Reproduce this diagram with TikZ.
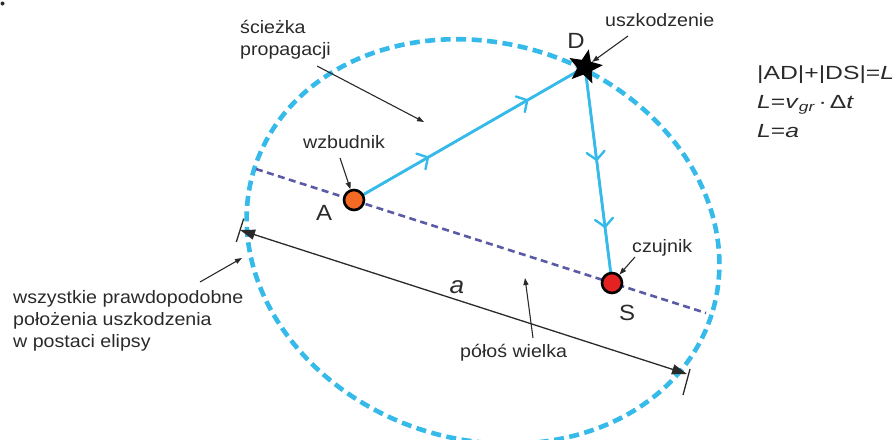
\documentclass[tikz,border=0pt]{standalone}
\usepackage{fontspec}
\setmainfont{Liberation Sans}
\newfontfamily\lblfont{Liberation Sans}[FakeStretch=1.09]
\newfontfamily\eqfont{Liberation Sans}[FakeStretch=1.3]
\usetikzlibrary{arrows.meta,decorations.markings,shapes.geometric}
\definecolor{elblue}{HTML}{35BAEA}
\definecolor{axpurple}{HTML}{5A5AA6}
\definecolor{txt}{HTML}{2A2A2A}
\definecolor{aorange}{HTML}{F26A24}
\definecolor{sred}{HTML}{E42222}
\tikzset{
  lbl/.style={font=\lblfont\fontsize{18}{22}\selectfont, text=txt, align=left, inner sep=0pt, anchor=base west},
  lblm/.style={font=\lblfont\fontsize{18}{22}\selectfont, text=txt, align=left, inner sep=0pt, anchor=north west},
  bigl/.style={font=\lblfont\fontsize{22}{26}\selectfont, text=txt, inner sep=0pt},
  note/.style={draw=txt, line width=1.1pt, -{Triangle[length=7pt,width=5pt]}},
  wave/.style={elblue, line width=2.6pt},
  chevron/.style={decoration={markings,
     mark=at position #1 with {\draw[elblue,line width=2.4pt,line cap=round,line join=round] (-8pt,9pt) -- (0pt,0pt) -- (-8pt,-9pt);}},
     postaction={decorate}},
  dimline/.style={draw=txt, line width=1.3pt},
  sensor/.style={circle, draw=black, line width=2.6pt, minimum size=20pt, inner sep=0pt}
}
\begin{document}
\begin{tikzpicture}[x=1pt,y=-1pt]
\useasboundingbox (0,0) rectangle (893,439);
% ellipse of possible positions
\draw[elblue, line width=4.6pt, dash pattern=on 10pt off 5.5pt]
  plot[domain=0:360, samples=240, smooth]
  ({483+240*cos(\x)*0.9521-198*sin(\x)*0.3057},{241.5+240*cos(\x)*0.3057+198*sin(\x)*0.9521});
% major axis
\coordinate (axL) at (256,169);
\coordinate (axR) at (706,313);
\draw[axpurple, line width=2.6pt, dash pattern=on 7pt off 4.5pt] (axL) -- (axR);
% points
\coordinate (pA) at (354,200);
\coordinate (pD) at (585,67);
\coordinate (pS) at (612,283);
\draw[wave, chevron=0.32] (pA) -- (pD);
\draw[wave, chevron=0.75] (pA) -- (pD);
\draw[wave, chevron=0.43] (pD) -- (pS);
\draw[wave, chevron=0.74] (pD) -- (pS);
\node[sensor, fill=aorange] (A) at (pA) {};
\node[sensor, fill=sred] (S) at (pS) {};
\node[star, star points=5, star point ratio=2.3, fill=black, minimum size=36pt, inner sep=0pt, rotate=-12] (D) at (pD) {};
% dimension "a"
\coordinate (tL1) at (243.7,218.6);
\coordinate (tL2) at (236.3,242);
\coordinate (tR1) at (690,369);
\coordinate (tR2) at (683,395);
\coordinate (dL) at (240,230);
\coordinate (dR) at (687,374);
\draw[dimline] (tL1) -- (tL2);
\draw[dimline] (tR1) -- (tR2);
\draw[dimline, {Triangle[length=15pt,width=10pt]}-{Triangle[length=15pt,width=10pt]}] (dL) -- (dR);
\node[font=\lblfont\itshape\fontsize{24}{26}\selectfont, text=txt, inner sep=0pt] (la) at (457,287) {a};
% letters
\node[bigl] (lA) at (324,213) {A};
\node[bigl] (lD) at (576,41) {D};
\node[bigl] (lS) at (627,313) {S};
% labels
\node[lblm] (tPath) at (240,20) {ścieżka\\propagacji};
\coordinate (tPathE) at (317,66);
\coordinate (tPathT) at (424,122);
\draw[note] (tPathE) -- (tPathT);
\node[lbl] (tExc) at (303,148) {wzbudnik};
\coordinate (tExcE) at (340,158);
\draw[note] (tExcE) -- (A);
\node[lbl] (tDmg) at (605,26) {uszkodzenie};
\coordinate (tDmgE) at (628,36);
\draw[note] (tDmgE) -- (D);
\node[lbl] (tSen) at (632,252) {czujnik};
\coordinate (tSenE) at (635,257);
\draw[note] (tSenE) -- (S);
\node[lbl] (tAx) at (460,357) {półoś wielka};
\coordinate (tAxE) at (533,338);
\coordinate (tAxT) at (525,278);
\draw[note] (tAxE) -- (tAxT);
\node[lblm] (tAll) at (13,290) {wszystkie prawdopodobne\\położenia uszkodzenia\\w postaci elipsy};
\coordinate (tAllE) at (200,282);
\coordinate (tAllT) at (242,258);
\draw[note] (tAllE) -- (tAllT);
% formula
\node[font=\eqfont\fontsize{19}{29}\selectfont, text=txt, align=left, inner sep=0pt, anchor=north west] (eq) at (757,66)
  {|AD|+|DS|=\textit{L}\\\textit{L}=\textit{v}\textsubscript{\textit{gr}}\,·\,Δ\textit{t}\\\textit{L}=\textit{a}};
% small dot
\fill[txt] (2.5,3.5) circle (2);
\end{tikzpicture}
\end{document}
